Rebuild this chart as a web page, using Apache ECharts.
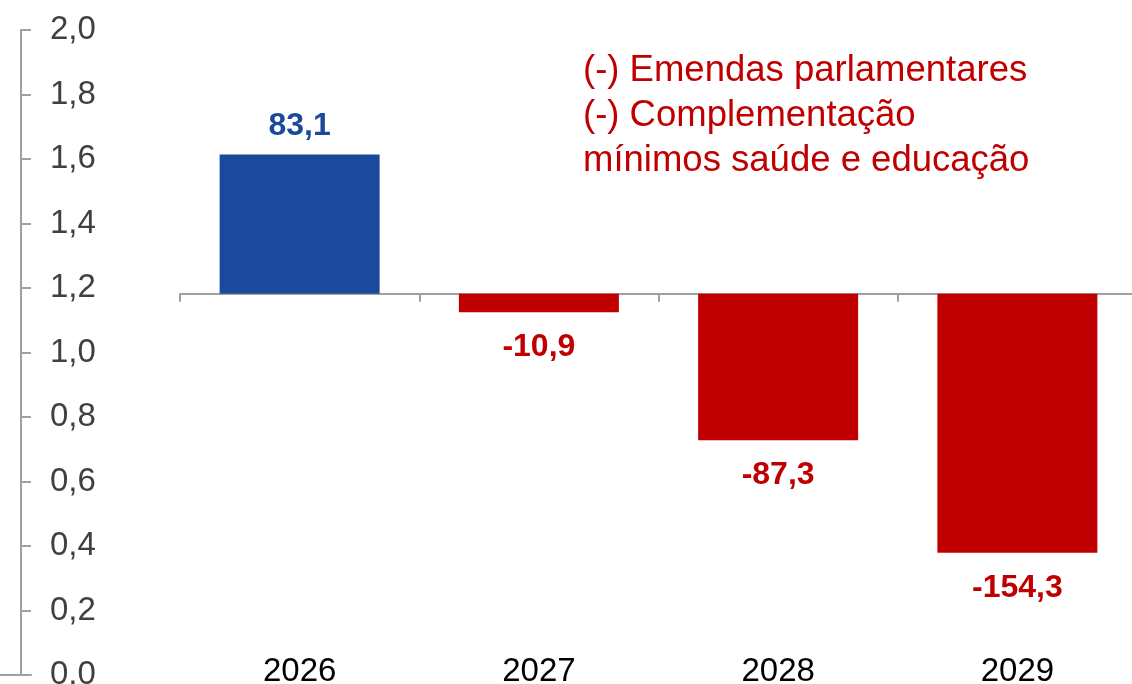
<!DOCTYPE html>
<html>
<head>
<meta charset="utf-8">
<script src="https://cdn.jsdelivr.net/npm/echarts@6/dist/echarts.min.js"></script>
<style>
html,body{margin:0;padding:0;background:#fff;}
#chart{width:1132px;height:684px;}
</style>
</head>
<body>
<div id="chart"></div>
<script>
const categories = ['2026', '2027', '2028', '2029'];
const values = [83.1, -10.9, -87.3, -154.3];
const leftTicks = [0, 0.2, 0.4, 0.6, 0.8, 1.0, 1.2, 1.4, 1.6, 1.8, 2.0];
const noteLines = ['(-) Emendas parlamentares', '(-) Complementação', 'mínimos saúde e educação'];

const FONT = "'Liberation Sans', Arial, sans-serif";
const BLUE = '#1B4A9C';
const RED = '#C00000';
const AXIS = '#A0A0A0';
const fmt = v => v.toFixed(1).replace('.', ',');

const chart = echarts.init(document.getElementById('chart'));
chart.setOption({
  animation: false,
  backgroundColor: '#fff',
  grid: [
    { left: 0, top: 30, width: 31, height: 645, containLabel: false, outerBoundsMode: 'none' },
    { left: 180, top: 30, width: 957, height: 645, containLabel: false, outerBoundsMode: 'none' }
  ],
  xAxis: [
    { gridIndex: 0, type: 'value', min: 0, max: 1, position: 'bottom',
      axisLine: { show: true, onZero: false, lineStyle: { color: AXIS, width: 2 } },
      axisTick: { show: false }, axisLabel: { show: false }, splitLine: { show: false } },
    { gridIndex: 1, type: 'category', data: categories, position: 'top',
      axisLine: { show: true, onZero: true, lineStyle: { color: AXIS, width: 2 } },
      axisTick: { show: true, inside: true, length: 8, lineStyle: { color: AXIS, width: 2 } },
      axisLabel: { show: false }, splitLine: { show: false } },
    { gridIndex: 1, type: 'category', data: categories, position: 'bottom', offset: -28,
      axisLine: { show: false, onZero: false }, axisTick: { show: false },
      axisLabel: { show: true, margin: 8, color: '#000', fontSize: 33, fontFamily: FONT },
      splitLine: { show: false } }
  ],
  yAxis: [
    { gridIndex: 0, type: 'value', min: leftTicks[0], max: leftTicks[leftTicks.length - 1], interval: 0.2,
      position: 'left', offset: -21,
      axisLine: { show: true, onZero: false, lineStyle: { color: AXIS, width: 2 } },
      axisTick: { show: true, inside: true, length: 10, lineStyle: { color: AXIS, width: 2 } },
      axisLabel: { show: true, inside: true, margin: 29, color: '#404040', fontSize: 33, fontFamily: FONT,
        formatter: v => fmt(v) },
      splitLine: { show: false } },
    { gridIndex: 1, type: 'value', min: -227.2, max: 157.3, show: false, splitLine: { show: false } }
  ],
  series: [{
    type: 'bar',
    xAxisIndex: 1,
    yAxisIndex: 1,
    barWidth: 160,
    data: values.map(v => ({
      value: v,
      itemStyle: { color: v >= 0 ? BLUE : RED },
      label: {
        show: true,
        position: v >= 0 ? 'top' : 'bottom',
        distance: v >= 0 ? 12 : 19,
        color: v >= 0 ? BLUE : RED,
        fontSize: 32,
        fontWeight: 'bold',
        fontFamily: FONT,
        formatter: p => fmt(p.value)
      }
    }))
  }],
  graphic: [{
    type: 'text',
    left: 583,
    top: 48,
    style: {
      text: noteLines.join('\n'),
      fill: RED,
      fontSize: 36.5,
      lineHeight: 45,
      fontFamily: FONT
    }
  }]
});
</script>
</body>
</html>
